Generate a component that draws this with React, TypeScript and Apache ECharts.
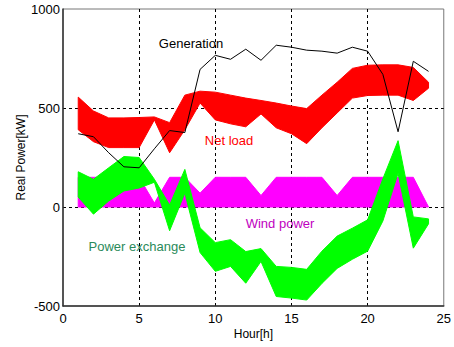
import React, { useEffect, useRef } from "react";
import * as echarts from "echarts";

// Hour categories on the x axis (0..25); data live at hours 1..24
const hourCategories = ["0","1","2","3","4","5","6","7","8","9","10","11","12","13","14","15","16","17","18","19","20","21","22","23","24","25"];
const dataHours = [1,2,3,4,5,6,7,8,9,10,11,12,13,14,15,16,17,18,19,20,21,22,23,24];

// Generation (kW), hours 1..24
const generation = [370, 355, 274, 203, 198, 294, 386, 376, 695, 766, 746, 797, 741, 817, 807, 792, 787, 777, 807, 787, 670, 380, 736, 685];

// Net load band (kW), hours 1..24
const netLoadLow = [390, 330, 300, 300, 300, 440, 274, 390, 525, 440, 420, 405, 470, 400, 370, 320, 400, 475, 550, 563, 565, 565, 538, 600];
const netLoadHigh = [555, 485, 450, 450, 452, 455, 426, 565, 585, 580, 565, 550, 538, 525, 510, 497, 565, 630, 700, 716, 718, 718, 705, 630];

// Wind power band (kW), hours 1..24
const windLow = [0, 0, 0, 0, 0, 0, 0, 0, 0, 0, 0, 0, 0, 0, 0, 0, 0, 0, 0, 0, 0, 0, 0, 0];
const windHigh = [150, 150, 150, 150, 150, 20, 150, 150, 70, 150, 150, 150, 58, 150, 150, 150, 150, 58, 150, 150, 150, 150, 150, 0];

// Power exchange band (kW), hours 1..24
const exchangeLow = [50, -36, 30, 81, 96, 125, -120, 70, -230, -325, -300, -385, -275, -452, -460, -470, -386, -310, -264, -223, -71, 170, -208, -85];
const exchangeHigh = [178, 140, 198, 255, 250, 140, 10, 190, -105, -180, -165, -225, -210, -300, -305, -315, -223, -147, -107, -65, 142, 335, -50, -60];

const FONT = "Arial, 'Liberation Sans', sans-serif";

function bandSeries(name: string, lo: number[], hi: number[], color: string) {
  return {
    name,
    type: "custom",
    coordinateSystem: "cartesian2d",
    data: dataHours.map((h, i) => [h, lo[i], hi[i]]),
    encode: { x: 0, y: [1, 2] },
    renderItem: (params: any, api: any) => {
      if (params.dataIndex !== 0) return null;
      const pts: number[][] = [];
      for (let i = 0; i < dataHours.length; i++) pts.push(api.coord([dataHours[i], hi[i]]));
      for (let i = dataHours.length - 1; i >= 0; i--) pts.push(api.coord([dataHours[i], lo[i]]));
      return {
        type: "polygon",
        shape: { points: pts },
        style: { fill: color, stroke: color, lineWidth: 1 },
      };
    },
  };
}

export default function App() {
  const ref = useRef<HTMLDivElement>(null);
  useEffect(() => {
    if (!ref.current) return;
    const chart = echarts.init(ref.current, undefined, { renderer: "svg" });
    chart.setOption({
      animation: false,
      backgroundColor: "#ffffff",
      textStyle: { fontFamily: FONT },
      grid: { left: 63, right: 9, top: 9, bottom: 41, show: true, borderColor: "#777", borderWidth: 1 },
      xAxis: {
        type: "category",
        data: hourCategories,
        boundaryGap: false,
        name: "Hour[h]",
        nameLocation: "middle",
        nameGap: 22,
        nameMoveOverlap: false,
        nameTextStyle: { fontSize: 12, color: "#000", fontFamily: FONT },
        axisLine: { onZero: false, lineStyle: { color: "#333", width: 1.5 } },
        axisTick: { show: false },
        axisLabel: { interval: 4, color: "#000", fontSize: 13, margin: 6, fontFamily: FONT },
        splitLine: {
          show: true,
          interval: (i: number) => i % 5 === 0 && i > 0 && i < 25,
          lineStyle: { color: "#000", width: 1, type: [3, 3] },
        },
      },
      yAxis: {
        type: "value",
        min: -500,
        max: 1000,
        interval: 500,
        name: "Real Power[kW]",
        nameLocation: "middle",
        nameGap: 36,
        nameMoveOverlap: false,
        nameTextStyle: { fontSize: 12, color: "#000", fontFamily: FONT },
        axisLine: { show: true, lineStyle: { color: "#333", width: 1.5 } },
        axisTick: { show: false },
        axisLabel: { color: "#000", fontSize: 13, margin: 3, fontFamily: FONT, formatter: (v: number) => String(v) },
        splitLine: {
          show: true,
          showMinLine: false,
          showMaxLine: false,
          lineStyle: { color: "#000", width: 1, type: [3, 3] },
        },
      },
      series: [
        bandSeries("Wind power", windLow, windHigh, "#ff00ff"),
        bandSeries("Power exchange", exchangeLow, exchangeHigh, "#00ff00"),
        bandSeries("Net load", netLoadLow, netLoadHigh, "#ff0000"),
        {
          name: "Generation",
          type: "line",
          data: dataHours.map((h, i) => [h, generation[i]]),
          symbol: "none",
          lineStyle: { color: "#000", width: 1 },
          itemStyle: { color: "#000" },
          z: 5,
        },
      ],
      graphic: [
        { type: "text", x: 191, y: 43, style: { text: "Generation", fill: "#000", font: `13px ${FONT}`, align: "center", verticalAlign: "middle" } },
        { type: "text", x: 229, y: 140, style: { text: "Net load", fill: "#ff0000", font: `13px ${FONT}`, align: "center", verticalAlign: "middle" } },
        { type: "text", x: 280, y: 223, style: { text: "Wind power", fill: "#c000c0", font: `13px ${FONT}`, align: "center", verticalAlign: "middle" } },
        { type: "text", x: 137, y: 246, style: { text: "Power exchange", fill: "#2a8a5a", font: `13px ${FONT}`, align: "center", verticalAlign: "middle" } },
      ],
    });
    return () => chart.dispose();
  }, []);
  return <div ref={ref} style={{ position: "fixed", left: 0, top: 0, width: 454, height: 347 }} />;
}
